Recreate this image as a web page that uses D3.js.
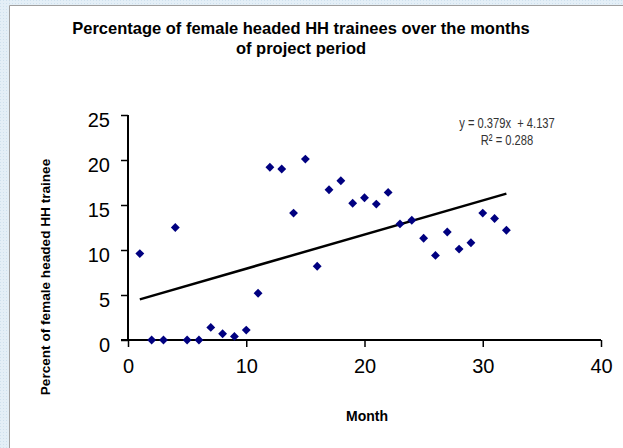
<!DOCTYPE html>
<html>
<head>
<meta charset="utf-8">
<script src="https://cdn.jsdelivr.net/npm/d3@7"></script>
<style>
  html, body { margin: 0; padding: 0; background: #fff; }
  svg { display: block; }
</style>
</head>
<body>
<svg id="chart" width="623" height="448"></svg>
<script>
// ---- data ----
const months = [1,2,3,4,5,6,7,8,9,10,11,12,13,14,15,16,17,18,19,20,21,22,23,24,25,26,27,28,29,30,31,32];
const percents = [9.6,0,0,12.5,0,0,1.4,0.7,0.4,1.1,5.2,19.2,19.0,14.1,20.1,8.2,16.7,17.7,15.2,15.8,15.1,16.4,12.9,13.3,11.3,9.4,12.0,10.1,10.8,14.1,13.5,12.2];
const xTicks = [0,10,20,30,40];
const yTicks = [0,5,10,15,20,25];
const trendSlope = 0.379;
const trendIntercept = 4.137;
const trendRange = [1,32];
const titleLines = ["Percentage of female headed HH trainees over the months", "of project period"];
const xTitle = "Month";
const yTitle = "Percent of female headed HH trainee";
const eqLines = ["y = 0.379x  + 4.137", "R² = 0.288"];

const svg = d3.select("#chart");

// background pattern (slide-like)
const defs = svg.append("defs");
const pat = defs.append("pattern").attr("id","bgpat").attr("width",3).attr("height",3).attr("patternUnits","userSpaceOnUse");
pat.append("rect").attr("width",3).attr("height",3).attr("fill","#e4eff7");
pat.append("rect").attr("width",1).attr("height",1).attr("fill","#cfe1ee");
svg.append("rect").attr("width",623).attr("height",448).attr("fill","url(#bgpat)");
svg.append("rect").attr("x",9).attr("y",5).attr("width",614).attr("height",443).attr("fill","#fff");
svg.append("path").attr("d","M9.5,448 V5.5 H623").attr("fill","none").attr("stroke","#a0a0a0").attr("stroke-width",1);

const x = d3.scaleLinear().domain([0,40]).range([128,601]);
const y = d3.scaleLinear().domain([0,25]).range([340,115]);

// title
const title = svg.append("text").attr("text-anchor","middle")
  .attr("font-family","Liberation Sans, Arial, sans-serif").attr("font-weight","bold").attr("font-size",16.5).attr("fill","#000");
titleLines.forEach((t,i)=> title.append("tspan").attr("x",301).attr("y",34 + i*20).text(t));

// axes
const xAxis = d3.axisBottom(x).tickValues(xTicks).tickSize(7).tickPadding(12).tickFormat(d3.format("d"));
const yAxis = d3.axisLeft(y).tickValues(yTicks).tickSize(7).tickPadding(11).tickFormat(d3.format("d"));

const gx = svg.append("g").attr("transform","translate(0,340)").call(xAxis);
const gy = svg.append("g").attr("transform","translate(128,0)").call(yAxis);
[gx, gy].forEach(g => {
  g.select(".domain").attr("stroke","#000").attr("stroke-width",2);
  g.selectAll(".tick line").attr("stroke","#000").attr("stroke-width",1.5);
  g.selectAll(".tick text").attr("font-family","Liberation Sans, Arial, sans-serif").attr("font-size",20).attr("fill","#000");
});
gx.select(".domain").attr("d", `M${x(0)-7},0H${x(40)}`);
gx.selectAll(".tick text").attr("dy","0.71em");
gy.select(".domain").attr("d", `M0,${y(25)}V${y(0)}`);
gy.selectAll(".tick text").attr("dy","0.55em");

// axis titles
svg.append("text").attr("x",367).attr("y",421).attr("text-anchor","middle")
  .attr("font-family","Liberation Sans, Arial, sans-serif").attr("font-weight","bold").attr("font-size",14).text(xTitle);
svg.append("text").attr("transform","translate(50,277) rotate(-90)").attr("text-anchor","middle")
  .attr("font-family","Liberation Sans, Arial, sans-serif").attr("font-weight","bold").attr("font-size",13.6).text(yTitle);

// trendline
const trend = trendRange.map(m => [m, trendSlope*m + trendIntercept]);
svg.append("path").datum(trend)
  .attr("d", d3.line().x(d=>x(d[0])).y(d=>y(d[1])))
  .attr("stroke","#000").attr("stroke-width",2.5).attr("fill","none");

// points
const diamond = d3.symbol().type(d3.symbolDiamond2).size(50);
svg.append("g").selectAll("path").data(months.map((m,i)=>[m,percents[i]])).join("path")
  .attr("transform", d=>`translate(${x(d[0])},${y(d[1])})`)
  .attr("d", diamond).attr("fill","#000080");

// equation (narrow look via horizontal compression)
const eq = svg.append("text").attr("text-anchor","middle")
  .attr("transform","translate(507,0) scale(0.72,1)")
  .attr("font-family","Liberation Sans, Arial, sans-serif")
  .attr("font-size",15.5).attr("fill","#333");
eqLines.forEach((t,i)=> eq.append("tspan").attr("x",0).attr("y",128 + i*17).attr("xml:space","preserve").text(t));
</script>
</body>
</html>
